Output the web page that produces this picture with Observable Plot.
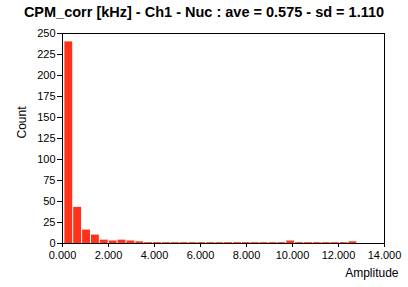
<!DOCTYPE html>
<html>
<head>
<meta charset="utf-8">
<script src="https://cdn.jsdelivr.net/npm/d3@7"></script>
<script src="https://cdn.jsdelivr.net/npm/@observablehq/plot@0.6"></script>
<style>
  html, body { margin: 0; padding: 0; background: #fff; }
  #title { width: 408px; height: 22px; text-align: center; font: bold 14.5px "Liberation Sans", Arial, sans-serif; line-height: 24px; color: #000; white-space: nowrap; }
  svg { display: block; }
</style>
</head>
<body>
<div id="title"></div>
<div id="chart"></div>
<script>
const titleText = "CPM_corr [kHz] - Ch1 - Nuc : ave = 0.575 - sd = 1.110";
const xLabel = "Amplitude";
const yLabel = "Count";
const binStart = 0.08;
const binWidth = 0.386;
const counts = [240, 43, 16, 10, 4, 3, 4, 3, 2, 1, 1, 1, 1, 1, 1, 1, 1, 1, 1, 1, 1, 1, 1, 1, 1, 3, 1, 1, 1, 1, 1, 1, 2];
const xTicks = [0, 2, 4, 6, 8, 10, 12, 14];
const yTicks = [0, 25, 50, 75, 100, 125, 150, 175, 200, 225, 250];

document.getElementById("title").textContent = titleText;

const bins = counts.map((c, i) => ({x1: binStart + i * binWidth, x2: binStart + (i + 1) * binWidth, count: c}));

const chart = Plot.plot({
  width: 408,
  height: 265,
  marginLeft: 62,
  marginRight: 24,
  marginTop: 11,
  marginBottom: 44,
  style: {fontFamily: '"Liberation Sans", Arial, sans-serif', fontSize: "11px", color: "#000", background: "#fff"},
  x: {domain: [0, 14]},
  y: {domain: [0, 250]},
  marks: [
    Plot.rectY(bins, {x1: "x1", x2: "x2", y: "count", fill: "#ff3319", insetLeft: 0.5, insetRight: 0.5}),
    Plot.frame({stroke: "#000", strokeWidth: 1}),
    Plot.axisX({ticks: xTicks, tickFormat: d3.format(".3f"), tickSize: 4, tickPadding: 4, label: null, stroke: "#000"}),
    Plot.axisY({ticks: yTicks, tickSize: 5, tickPadding: 2, label: null, stroke: "#000"}),
    Plot.text([xLabel], {frameAnchor: "bottom-right", dx: 14, dy: 33, textAnchor: "end", fontSize: 12}),
    Plot.text([yLabel], {frameAnchor: "left", dx: -40, rotate: -90, fontSize: 12})
  ]
});
document.getElementById("chart").appendChild(chart);
</script>
</body>
</html>
